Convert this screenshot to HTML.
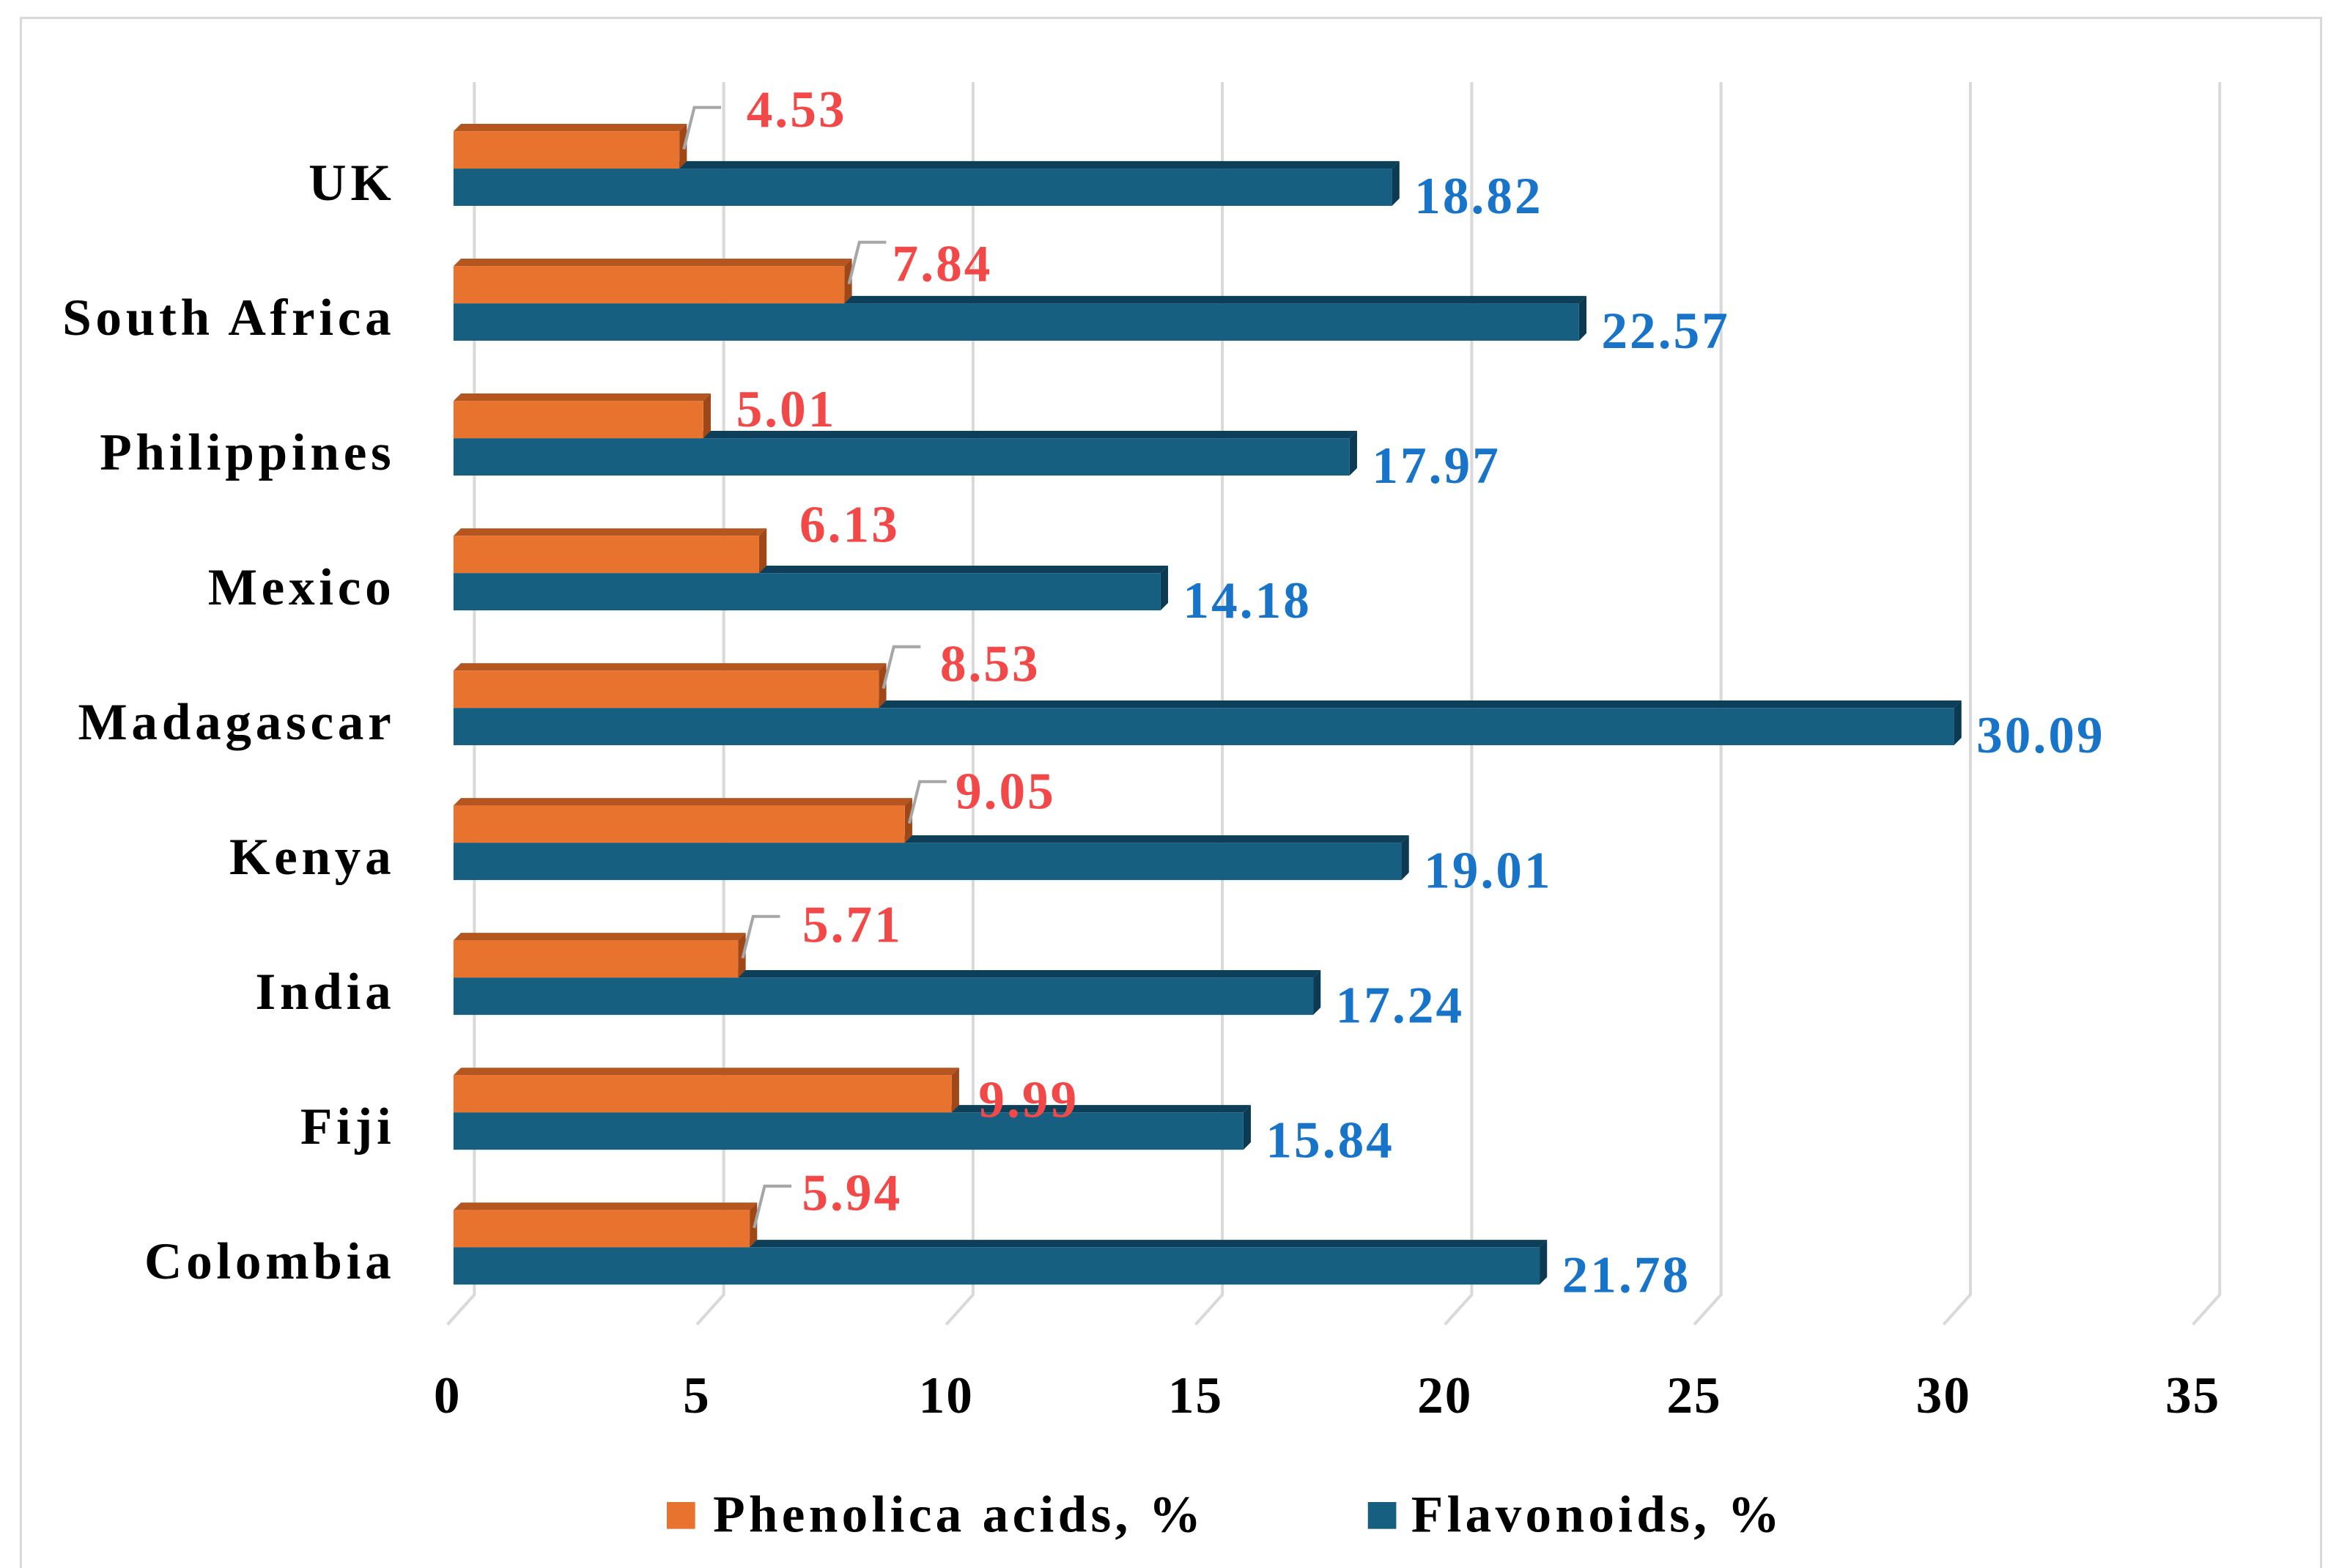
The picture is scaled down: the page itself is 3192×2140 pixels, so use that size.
<!DOCTYPE html>
<html><head><meta charset="utf-8"><style>
html,body{margin:0;padding:0;background:#fff;}
svg{display:block;}
text{font-family:"Liberation Serif",serif;font-weight:bold;}
</style></head><body>
<svg id="chart" width="3192" height="2140" viewBox="0 0 1568 1051.2" xmlns="http://www.w3.org/2000/svg">
<rect x="14" y="12" width="1542" height="1060" fill="#fff" stroke="#d9d9d9" stroke-width="1.5"/>
<g id="grid"></g><g id="bars"></g><g id="labels"></g><g id="axis"></g>
<g>
<rect x="447" y="1007" width="19" height="18" fill="#e8732f"/>
<text x="478" y="1027" font-size="35" letter-spacing="2.6" fill="#000">Phenolica acids, %</text>
<rect x="917" y="1007" width="19" height="18" fill="#175f80"/>
<text x="946" y="1027" font-size="35" letter-spacing="2.6" fill="#000">Flavonoids, %</text>
</g>
</svg>
<script>
const categories=["UK","South Africa","Philippines","Mexico","Madagascar","Kenya","India","Fiji","Colombia"];
const phenolic=[4.53,7.84,5.01,6.13,8.53,9.05,5.71,9.99,5.94];
const flavonoids=[18.82,22.57,17.97,14.18,30.09,19.01,17.24,15.84,21.78];
const ticks=[0,5,10,15,20,25,30,35];
const labelDx=[45,32,22,27,41,34,43,18,35];
const labelDy=[-3,10,17,4,7,2,1,28,0];
const leader=[1,1,0,0,1,1,1,0,1];

const NS="http://www.w3.org/2000/svg";
const X0=304,K=33.43,ROW0=88,PITCH=90.4,H=25,D=5;
const xs=v=>X0+v*K;
function mk(tag,attrs,parent){const e=document.createElementNS(NS,tag);for(const k in attrs)e.setAttribute(k,attrs[k]);parent.appendChild(e);return e;}
const grid=document.getElementById('grid'),bars=document.getElementById('bars'),labels=document.getElementById('labels'),axis=document.getElementById('axis');
ticks.forEach(t=>{
  const x=xs(t);
  const g=mk('polyline',{points:`${x+14},55 ${x+14},868 ${x-4},888`,fill:'none',stroke:'#d9d9d9','stroke-width':2},grid);
  
  
  const tl=mk('text',{x:x-4,y:947,'font-size':35,'letter-spacing':1,'text-anchor':'middle',fill:'#000'},axis);
  tl.textContent=t;
  
  
});
function bar3d(v,y,front,top,side,name){
  const x=xs(v);
  const g=mk('g',{},bars);
  
  
  mk('polygon',{points:`${X0},${y} ${X0+D},${y-D} ${x+D},${y-D} ${x},${y}`,fill:top},g);
  mk('polygon',{points:`${x},${y} ${x+D},${y-D} ${x+D},${y+H-D} ${x},${y+H}`,fill:side},g);
  mk('rect',{x:X0,y:y,width:x-X0,height:H,fill:front},g);
  return x;
}
categories.forEach((c,i)=>{
  const yo=ROW0+i*PITCH, yb=yo+H;
  const xb=bar3d(flavonoids[i],yb,'#175f80','#0d3f58','#0b3a52','bar-flavonoids-'+c.toLowerCase().replace(/ /g,'-'));
  const xo=bar3d(phenolic[i],yo,'#e8732f','#b5551f','#9e4718','bar-phenolic-'+c.toLowerCase().replace(/ /g,'-'));
  const cl=mk('text',{x:265,y:yo+H+21,'font-size':35,'letter-spacing':2.8,'text-anchor':'end',fill:'#000'},labels);
  cl.textContent=c;
  
  
  if(leader[i]){
    const l=mk('polyline',{points:`${xo+3},${yo+12} ${xo+10},${yo-16} ${xo+28},${yo-16}`,fill:'none',stroke:'#a6a6a6','stroke-width':2},labels);
    
    
  }
  const pl=mk('text',{x:xo+labelDx[i],y:yo+labelDy[i],'font-size':35,'letter-spacing':1.5,fill:'#f24848'},labels);
  pl.textContent=phenolic[i].toFixed(2);
  
  
  const fl=mk('text',{x:xb+15,y:yb+H+5,'font-size':35,'letter-spacing':1.5,fill:'#1874c8'},labels);
  fl.textContent=flavonoids[i].toFixed(2);
  
  
});
</script>
</body></html>
